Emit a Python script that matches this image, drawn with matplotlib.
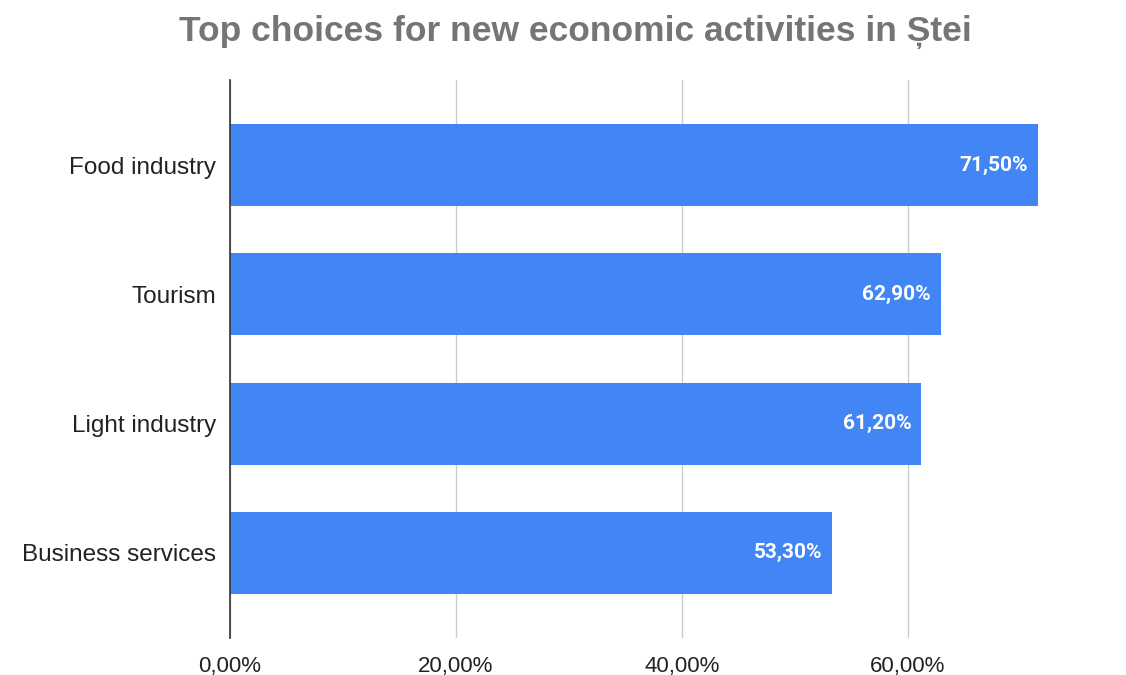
import matplotlib
matplotlib.use("Agg")
import matplotlib.pyplot as plt
from matplotlib.ticker import FuncFormatter

plt.rcParams["font.family"] = ["Liberation Sans", "DejaVu Sans"]

# Survey shares (%) for each activity
categories = ["Food industry", "Tourism", "Light industry", "Business services"]
shares = [71.5, 62.9, 61.2, 53.3]
x_ticks = [0, 20, 40, 60]

BAR_BLUE = "#4285F4"


def pct_comma(v, _pos=None):
    return f"{v:.2f}%".replace(".", ",")


fig = plt.figure(figsize=(11.26, 6.75), dpi=100)
ax = fig.add_axes([230 / 1126, 37 / 675, 1 - 230 / 1126, 558 / 675])

y = range(len(categories))
bars = ax.barh(y, shares, height=0.635, color=BAR_BLUE, zorder=3)

for b, v in zip(bars, shares):
    ax.text(b.get_width() - 0.85, b.get_y() + b.get_height() / 2, pct_comma(v),
            ha="right", va="center", color="white", fontsize=15,
            fontweight="bold", family=["Roboto", "DejaVu Sans"], zorder=4)

ax.set_yticks(list(y))
ax.set_yticklabels(categories, fontsize=17.5, color="#222222")
ax.set_ylim(3.66, -0.66)
ax.set_xlim(0, 79.3)
ax.set_xticks(x_ticks)
ax.xaxis.set_major_formatter(FuncFormatter(pct_comma))
ax.tick_params(axis="x", labelsize=16, colors="#222222", length=0, pad=13)
ax.tick_params(axis="y", length=0, pad=10)

ax.grid(axis="x", color="#cccccc", lw=1, zorder=0)
for s in ["top", "right", "bottom"]:
    ax.spines[s].set_visible(False)
ax.spines["left"].set_color("#333333")
ax.spines["left"].set_linewidth(1.2)
ax.spines["left"].set_zorder(5)

fig.text(575 / 1126, 1 - 32 / 675, "Top choices for new economic activities in Ștei",
         ha="center", va="center", fontsize=25.5, fontweight="bold", color="#757575")

fig.savefig("out.png", dpi=100)
